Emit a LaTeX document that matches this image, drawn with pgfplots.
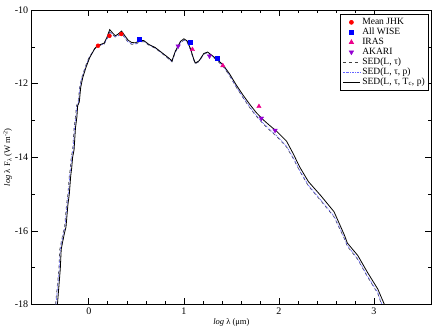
\documentclass[border=0pt]{standalone}
\usepackage{fontspec}
\setmainfont{Liberation Serif}
\usepackage{pgfplots}
\pgfplotsset{compat=1.18}
\definecolor{akari}{RGB}{148,0,211}
\definecolor{sedp}{RGB}{100,100,255}

\begin{document}
\begin{tikzpicture}
\begin{axis}[
    scale only axis,
    width=396bp,
    height=292bp,
    xmin=-0.6, xmax=3.6,
    ymin=-18, ymax=-10,
    xtick={0,1,2,3},
    ytick={-18,-16,-14,-12,-10},
    minor x tick num=4,
    minor y tick num=1,
    major tick length=6bp,
    minor tick length=3bp,
    tick style={black, line width=0.6pt},
    axis line style={line width=0.6pt},
    /pgf/number format/assume math mode=true,
    tick label style={font=\fontsize{10}{12}\selectfont},
    label style={font=\fontsize{8.5}{10}\selectfont},
    xlabel={\textit{log} λ (μm)},
    ylabel={\textit{log} λ F\textsubscript{λ} (W m\textsuperscript{-2})},
    xlabel style={yshift=3bp},
    ylabel style={yshift=-4bp},
    legend style={
        at={(0.995,0.986)},
        anchor=north east,
        font=\fontsize{9.5}{10}\selectfont,
        cells={anchor=west},
        draw=black,
        line width=0.5pt,
        row sep=-2pt,
        inner sep=2pt,
    },
    legend image post style={line width=0.6pt},
]
% SED(L, tau)
\addplot[black!75, line width=0.6pt, dashed, forget plot] coordinates {
(-0.35,-18.0) (-0.315,-17.04) (-0.305,-16.5) (-0.29,-16.3) (-0.27,-16.05)
(-0.255,-15.9) (-0.235,-15.3) (-0.22,-15.0) (-0.205,-14.5) (-0.195,-14.3)
(-0.185,-14.0) (-0.17,-13.8) (-0.155,-13.2) (-0.14,-12.9) (-0.13,-12.6)
(-0.112,-12.5) (-0.097,-12.1) (-0.075,-11.84) (-0.04,-11.56) (0.0,-11.3)
(0.06,-11.06) (0.096,-10.98) (0.16,-10.93) (0.19,-10.8) (0.22,-10.6)
(0.25,-10.67) (0.28,-10.74) (0.31,-10.7) (0.345,-10.63) (0.38,-10.76)
(0.415,-10.88) (0.45,-10.93) (0.49,-10.93) (0.54,-10.86) (0.58,-10.86)
(0.63,-10.95) (0.70,-11.04) (0.79,-11.22) (0.84,-11.33) (0.875,-11.41)
(0.91,-11.15) (0.965,-10.89) (1.0,-10.82) (1.035,-10.88) (1.07,-11.08)
(1.10,-11.33) (1.12,-11.46) (1.16,-11.4) (1.21,-11.2) (1.25,-11.16)
(1.28,-11.22) (1.34,-11.35) (1.41,-11.52) (1.48,-11.78) (1.55,-12.09)
(1.62,-12.37) (1.69,-12.64) (1.76,-12.88) (1.83,-13.08) (1.90,-13.26)
(1.975,-13.43) (2.08,-13.72) (2.15,-14.03) (2.22,-14.38) (2.31,-14.78)
(2.44,-15.18) (2.58,-15.62) (2.69,-16.22) (2.72,-16.42) (2.83,-16.78)
(2.93,-17.24) (3.04,-17.7) (3.08,-18.0)
};
% SED(L, tau, p)
\addplot[sedp, line width=0.6pt, dash pattern=on 2pt off 1pt on 0.6pt off 1pt, forget plot] coordinates {
(-0.345,-18.0) (-0.31,-17.04) (-0.30,-16.5) (-0.285,-16.3) (-0.265,-16.05)
(-0.25,-15.9) (-0.23,-15.3) (-0.215,-15.0) (-0.20,-14.5) (-0.19,-14.3)
(-0.18,-14.0) (-0.165,-13.8) (-0.15,-13.2) (-0.135,-12.9) (-0.125,-12.6)
(-0.108,-12.5) (-0.093,-12.1) (-0.072,-11.84) (-0.037,-11.56) (0.003,-11.3)
(0.062,-11.05) (0.096,-10.97) (0.16,-10.92) (0.19,-10.79) (0.22,-10.58)
(0.25,-10.66) (0.28,-10.73) (0.31,-10.69) (0.345,-10.62) (0.38,-10.75)
(0.415,-10.87) (0.45,-10.92) (0.49,-10.92) (0.54,-10.85) (0.58,-10.85)
(0.63,-10.94) (0.70,-11.03) (0.79,-11.21) (0.84,-11.32) (0.875,-11.40)
(0.91,-11.14) (0.965,-10.88) (1.0,-10.81) (1.035,-10.87) (1.07,-11.07)
(1.10,-11.32) (1.12,-11.45) (1.16,-11.39) (1.21,-11.19) (1.25,-11.15)
(1.28,-11.21) (1.34,-11.34) (1.41,-11.51) (1.48,-11.77) (1.55,-12.08)
(1.62,-12.36) (1.69,-12.62) (1.76,-12.86) (1.83,-13.06) (1.90,-13.24)
(1.975,-13.41) (2.08,-13.70) (2.15,-14.01) (2.22,-14.36) (2.31,-14.76)
(2.44,-15.16) (2.58,-15.60) (2.69,-16.20) (2.72,-16.40) (2.83,-16.76)
(2.93,-17.22) (3.04,-17.68) (3.085,-18.0)
};
% SED(L, tau, Tc, p)
\addplot[black, line width=0.8pt, forget plot] coordinates {
(-0.33,-18.0) (-0.30,-17.04) (-0.29,-16.5) (-0.275,-16.3) (-0.255,-16.05)
(-0.24,-15.9) (-0.22,-15.3) (-0.205,-15.0) (-0.19,-14.5) (-0.18,-14.3)
(-0.17,-14.0) (-0.155,-13.8) (-0.14,-13.2) (-0.125,-12.9) (-0.117,-12.6)
(-0.10,-12.5) (-0.085,-12.1) (-0.064,-11.84) (-0.03,-11.56) (0.01,-11.29)
(0.064,-11.04) (0.096,-10.96) (0.16,-10.9) (0.19,-10.75) (0.22,-10.53)
(0.25,-10.62) (0.28,-10.70) (0.31,-10.65) (0.345,-10.57) (0.38,-10.70)
(0.415,-10.82) (0.45,-10.88) (0.49,-10.89) (0.54,-10.83) (0.58,-10.83)
(0.63,-10.93) (0.70,-11.02) (0.79,-11.2) (0.84,-11.30) (0.875,-11.38)
(0.91,-11.12) (0.965,-10.85) (1.0,-10.78) (1.035,-10.84) (1.07,-11.05)
(1.10,-11.3) (1.12,-11.44) (1.16,-11.38) (1.21,-11.18) (1.25,-11.14)
(1.28,-11.2) (1.34,-11.32) (1.41,-11.48) (1.48,-11.73) (1.55,-12.03)
(1.62,-12.30) (1.69,-12.55) (1.76,-12.78) (1.83,-12.97) (1.90,-13.13)
(1.975,-13.29) (2.08,-13.56) (2.15,-13.90) (2.22,-14.27) (2.31,-14.66)
(2.44,-15.04) (2.58,-15.48) (2.69,-16.12) (2.72,-16.33) (2.83,-16.67)
(2.93,-17.12) (3.04,-17.58) (3.11,-18.0)
};
% photometry
\addplot[only marks, mark=*, mark size=2bp, color=red] coordinates {
(0.097,-10.97) (0.217,-10.70) (0.342,-10.65)
};
\addlegendentry{Mean JHK}
\addplot[only marks, mark=square*, mark size=2bp, color=blue] coordinates {
(0.531,-10.80) (1.07,-10.87) (1.35,-11.30)
};
\addlegendentry{All WISE}
\addplot[only marks, mark=triangle*, mark size=2.5bp, color=magenta] coordinates {
(1.09,-11.07) (1.41,-11.51) (1.79,-12.62)
};
\addlegendentry{IRAS}
\addplot[only marks, mark=triangle*, mark size=2.5bp, mark options={rotate=180}, color=akari] coordinates {
(0.94,-10.98) (1.27,-11.25) (1.816,-12.94) (1.96,-13.27)
};
\addlegendentry{AKARI}
\addlegendimage{black!75, line width=0.6pt, dashed}
\addlegendentry{SED(L, τ)}
\addlegendimage{sedp, line width=0.6pt, dash pattern=on 2pt off 1pt on 0.6pt off 1pt}
\addlegendentry{SED(L, τ, p)}
\addlegendimage{black, line width=0.8pt}
\addlegendentry{SED(L, τ, T\textsubscript{c}, p)}
\end{axis}
\path (current axis.north east) ++(2bp,10bp);
\end{tikzpicture}
\end{document}
